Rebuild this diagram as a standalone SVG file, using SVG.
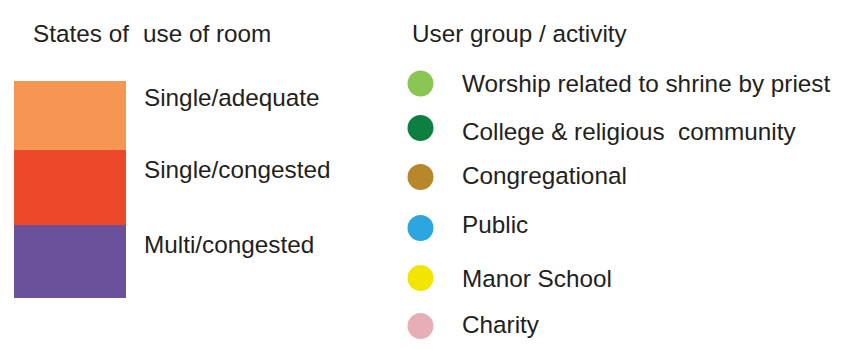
<svg xmlns="http://www.w3.org/2000/svg" width="858" height="349" viewBox="0 0 858 349">
<style>
text{font-family:"Liberation Sans",Arial,sans-serif;font-size:24.3px;fill:#231f20}
</style>
<rect width="858" height="349" fill="#ffffff"/>
<g id="header-states">
<text x="33" y="42">States of</text>
<text x="143" y="42">use of room</text>
</g>
<g id="header-users"><text x="412" y="42">User group / activity</text></g>
<g id="state-single-adequate"><rect x="14" y="81" width="112" height="69" fill="#f79552"/><text x="144" y="106">Single/adequate</text></g>
<g id="state-single-congested"><rect x="14" y="150" width="112" height="75" fill="#ee482c"/><text x="144" y="178">Single/congested</text></g>
<g id="state-multi-congested"><rect x="14" y="225" width="112" height="73" fill="#6b509c"/><text x="144" y="253">Multi/congested</text></g>
<g id="user-worship"><circle cx="420.5" cy="83.5" r="13" fill="#8bc553"/><text x="462" y="92">Worship related to shrine by priest</text></g>
<g id="user-college"><circle cx="420.5" cy="128" r="13" fill="#0d7f3f"/><text x="462" y="140" xml:space="preserve">College &amp; religious  community</text></g>
<g id="user-congregational"><circle cx="420.5" cy="177" r="13" fill="#b8862b"/><text x="462" y="184">Congregational</text></g>
<g id="user-public"><circle cx="420.5" cy="228" r="13" fill="#2ba6df"/><text x="462" y="233">Public</text></g>
<g id="user-manor"><circle cx="420.5" cy="278" r="13" fill="#f2e500"/><text x="462" y="287">Manor School</text></g>
<g id="user-charity"><circle cx="420.5" cy="326" r="13" fill="#e6afb6"/><text x="462" y="333">Charity</text></g>
</svg>
